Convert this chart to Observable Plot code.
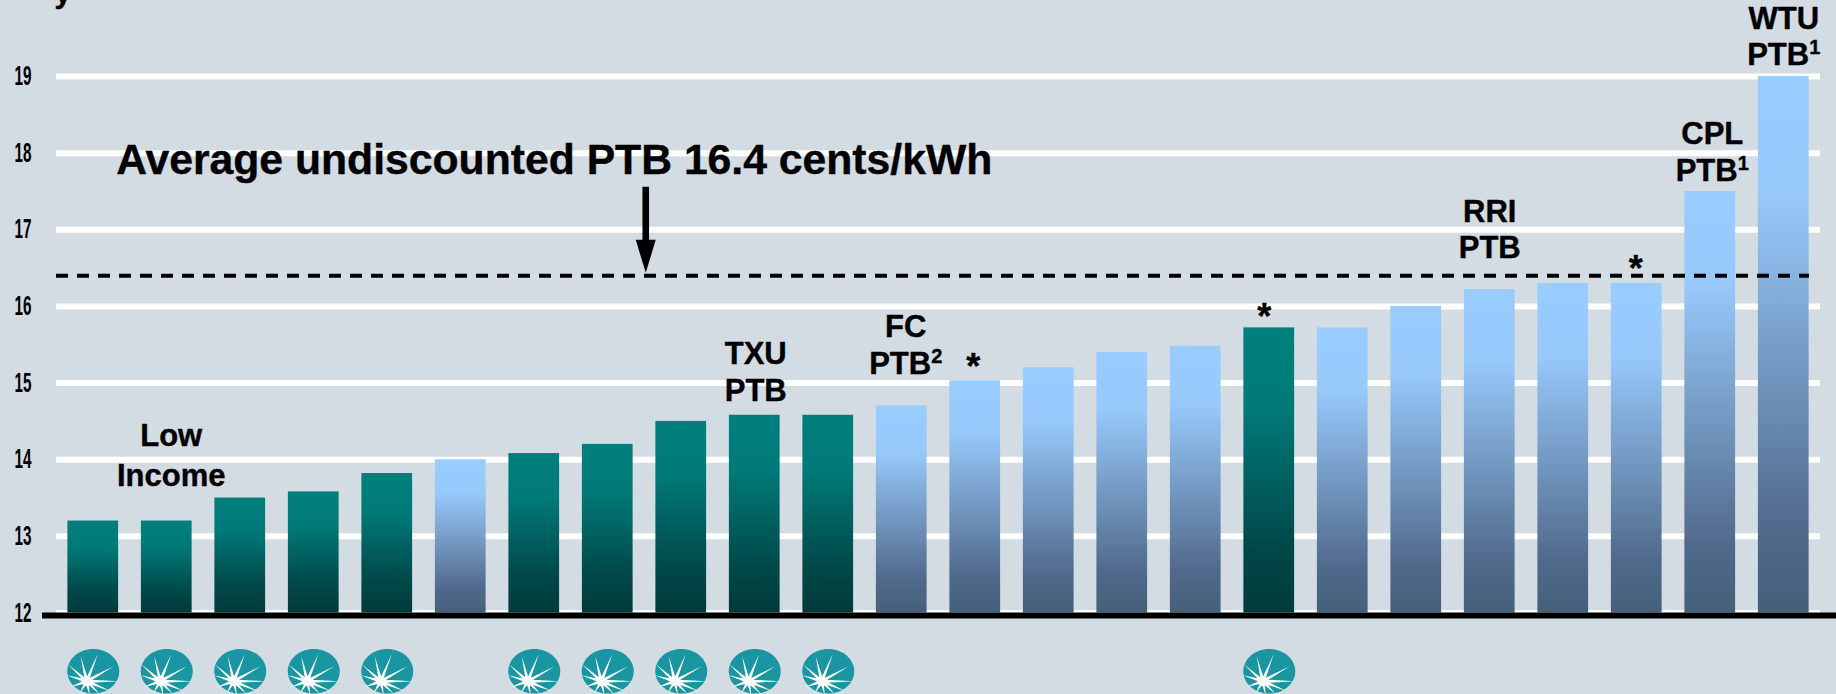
<!DOCTYPE html>
<html><head><meta charset="utf-8">
<script src="https://cdn.jsdelivr.net/npm/d3@7"></script>
<script src="https://cdn.jsdelivr.net/npm/@observablehq/plot@0.6"></script>
<style>html,body{margin:0;padding:0;background:#d3dbe3;overflow:hidden}svg{display:block}</style>
</head><body><div id="chart"></div>
<script>
const barIds = ["1","2","3","4","5","6","7","8","9","10","11","12","13","14","15","16","17","18","19","20","21","22","23","24"];
const barValues = [13.2,13.2,13.5,13.58,13.82,14.0,14.08,14.2,14.5,14.58,14.58,14.7,15.03,15.2,15.4,15.48,15.72,15.72,16.0,16.22,16.3,16.3,17.5,19.0];
const barGroups = ["t","t","t","t","t","b","t","t","t","t","t","b","b","b","b","b","t","b","b","b","b","b","b","b"];
const yTicks = [12,13,14,15,16,17,18,19];
const average = 16.4;
const noteText = "Average undiscounted PTB 16.4 cents/kWh";
const labelIds = ["1","10","12","20","23","24"];
const labelTexts = ["Low\nIncome","TXU\nPTB","FC\nPTB²","RRI\nPTB","CPL\nPTB¹","WTU\nPTB¹"];
const labelLevels = [14.08,15.16,15.51,17.02,18.03,19.54];
const labelShift = [78,1,4,0,2,0];
const labelLeading = [1.28,1.18,1.18,1.18,1.18,1.18];
const starIds = ["13","17","22"];
const starLevels = [15.2,15.86,16.48];
const starShift = [-2,-5,-1];

const rows = barIds.map((id,i)=>({id,value:barValues[i],group:barGroups[i]}));
const font = "'Liberation Sans',Arial,sans-serif";

const logoDisc = {draw(c,size){
  const s=Math.sqrt(size/Math.PI), rx=s, ry=s*0.86, k=0.5523;
  c.moveTo(rx,0);
  c.bezierCurveTo(rx,k*ry,k*rx,ry,0,ry);
  c.bezierCurveTo(-k*rx,ry,-rx,k*ry,-rx,0);
  c.bezierCurveTo(-rx,-k*ry,-k*rx,-ry,0,-ry);
  c.bezierCurveTo(k*rx,-ry,rx,-k*ry,rx,0);
  c.closePath();
}};
const logoBurst = {draw(c,size){
  const s=Math.sqrt(size/Math.PI)/26;
  const ox=-6.5*s, oy=10*s;
  [[-6,-25],[11,-27],[27,-15],[32,0],[24,10],[-19,-17],[-20,-6],[-17,6],[-7,12],[3,14],[13,13]].forEach(([x,y])=>{
    const L=Math.hypot(x,y), nx=-y/L*1.8*s, ny=x/L*1.8*s;
    c.moveTo(ox+nx,oy+ny);c.lineTo(ox+x*s,oy+y*s);c.lineTo(ox-nx,oy-ny);c.closePath();
  });
  const r=5*s;
  c.moveTo(ox+r,oy);c.arc(ox,oy,r,0,2*Math.PI,true);c.closePath();
}};
const arrowShape = {draw(c,l){
  c.moveTo(-3.3,0);c.lineTo(3.3,0);c.lineTo(3.3,-53);c.lineTo(10,-53);c.lineTo(0,-l);c.lineTo(-10,-53);c.lineTo(-3.3,-53);c.closePath();
}};
function defs(){
  const d=d3.create("svg:defs");
  const add=(id,stops)=>{const g=d.append("linearGradient").attr("id",id).attr("x1",0).attr("y1",0).attr("x2",0).attr("y2",1);
    stops.forEach(([o,c])=>g.append("stop").attr("offset",o).attr("stop-color",c));};
  add("teal",[[0,"#007f7c"],[0.28,"#007a78"],[0.75,"#004a4a"],[1,"#003a3a"]]);
  add("blue",[[0,"#99ccff"],[0.22,"#97c9fb"],[0.55,"#7297c0"],[0.85,"#50688a"],[1,"#46607a"]]);
  return d.node();
}
const textBase={fontFamily:font,fontWeight:"bold",fill:"black",stroke:"black",strokeWidth:0.4};
const plot = Plot.plot({
  width:1836,height:694,
  marginTop:76,marginBottom:81.5,marginLeft:56,marginRight:16,
  style:{background:"#d3dbe3",fontFamily:font,overflow:"hidden"},
  x:{type:"band",domain:barIds,paddingInner:0.31,paddingOuter:0.155,axis:null,round:false,label:null},
  y:{domain:[12,19],label:null},
  marks:[
    defs,
    Plot.ruleY(yTicks,{stroke:"white",strokeWidth:6}),
    Plot.barY(rows.filter(d=>d.group==="t"),{x:"id",y1:12,y2:"value",fill:"url(#teal)"}),
    Plot.barY(rows.filter(d=>d.group==="b"),{x:"id",y1:12,y2:"value",fill:"url(#blue)"}),
    Plot.ruleY([12],{stroke:"black",strokeWidth:6,dy:2.5,insetLeft:-14,insetRight:-16}),
    Plot.ruleY([average],{stroke:"black",strokeWidth:4,strokeDasharray:"12 9",insetRight:11}),
    Plot.axisY({ticks:yTicks,tickFormat:d=>`${d}`,tickSize:0,tickPadding:25,fontSize:27,fontWeight:"bold",label:null,fill:"black"}),
    Plot.vector(["8"],{x:d=>d,y:()=>17.56,dx:38,rotate:180,length:86,anchor:"start",shape:arrowShape,fill:"black",stroke:"none"}),
    Plot.text([noteText],{...textBase,text:d=>d,x:()=>"7",y:()=>17.91,dx:20,fontSize:42.7,textAnchor:"middle"}),
    ...labelIds.map((id,i)=>Plot.text([labelTexts[i]],{...textBase,text:d=>d,x:()=>id,y:()=>labelLevels[i],dx:labelShift[i],fontSize:31,lineHeight:labelLeading[i],textAnchor:"middle"})),
    ...starIds.map((id,i)=>Plot.text(["*"],{...textBase,text:d=>d,x:()=>id,y:()=>starLevels[i],dx:starShift[i],fontSize:36,textAnchor:"middle"})),
    Plot.text(["y"],{...textBase,text:d=>d,frameAnchor:"top-left",dy:-95,dx:-2,fontSize:30,lineAnchor:"top"}),
    Plot.dot(rows.filter(d=>d.group==="t"),{x:"id",y:()=>11.24,r:26,symbol:logoDisc,fill:"#1a96a3",stroke:"none"}),
    Plot.dot(rows.filter(d=>d.group==="t"),{x:"id",y:()=>11.24,r:26,symbol:logoBurst,fill:"white",stroke:"none"})
  ]
});
d3.select(plot).selectAll('g[aria-label="y-axis tick label"] text').attr("textLength",17).attr("lengthAdjust","spacingAndGlyphs");
d3.select(plot).selectAll("tspan").each(function(){
  const t=this.textContent, m=t.match(/^(.*)([¹²])$/);
  if(!m) return;
  this.textContent=m[1];
  d3.select(this).append("tspan").attr("dy",-11).attr("font-size",20).text(m[2]==="¹"?"1":"2");
});
document.getElementById("chart").append(plot);
</script></body></html>
